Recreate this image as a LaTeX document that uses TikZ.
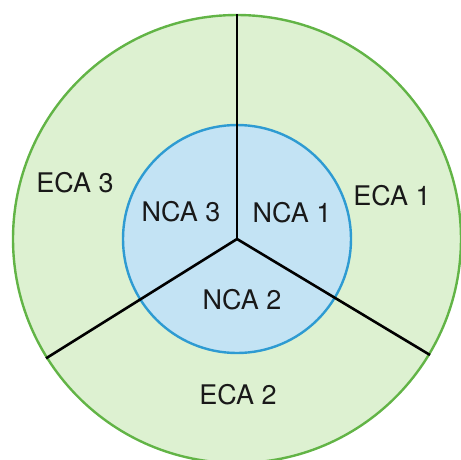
\documentclass[tikz,border=0pt]{standalone}
\usepackage{fontspec}
\setmainfont{TeX Gyre Heros}
\definecolor{ecafill}{HTML}{DDF1D1}
\definecolor{ecaline}{HTML}{62B446}
\definecolor{ncafill}{HTML}{C3E3F4}
\definecolor{ncaline}{HTML}{2E9BD2}
\tikzset{
  lbl/.style={font=\fontsize{27}{30}\selectfont, text=black!90, inner sep=0pt},
  divider/.style={draw=black, line width=2.6pt},
}
\begin{document}
\begin{tikzpicture}[x=1pt,y=-1pt]
\useasboundingbox (0,0) rectangle (461,459);
\begin{scope}
\clip (0,0) rectangle (461,459);
\coordinate (c) at (237,239);
\node[circle, minimum size=448pt, inner sep=0pt, fill=ecafill, draw=ecaline, line width=2.4pt] (outer) at (c) {};
\node[circle, minimum size=228pt, inner sep=0pt, fill=ncafill, draw=ncaline, line width=2.4pt] (inner) at (c) {};
\coordinate (top) at (outer.north);
\coordinate (bl) at (outer.212.5);
\coordinate (br) at (outer.-31.5);
\draw[divider] (c) -- (top);
\draw[divider] (c) -- (bl);
\draw[divider] (c) -- (br);
\end{scope}
\node[lbl] (eca3) at (75,183) {ECA 3};
\node[lbl] (eca1) at (392,196) {ECA 1};
\node[lbl] (eca2) at (238,395) {ECA 2};
\node[lbl] (nca3) at (181,212) {NCA 3};
\node[lbl] (nca1) at (292,213) {NCA 1};
\node[lbl] (nca2) at (242,300) {NCA 2};
\end{tikzpicture}
\end{document}
